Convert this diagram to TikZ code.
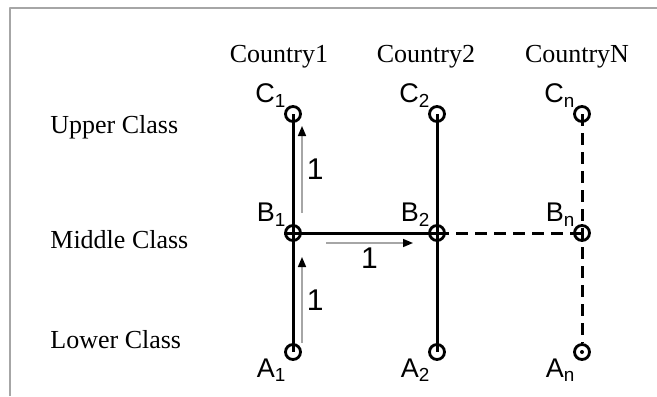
\documentclass[tikz,border=0pt]{standalone}
\usepackage{fontspec}
\setmainfont{Liberation Serif}
\newfontfamily\lblfont{Liberation Sans}
\usetikzlibrary{arrows.meta}

\begin{document}
\begin{tikzpicture}[x=0.5pt,y=-0.5pt,line join=round,
  spot/.style={circle,draw,line width=1.4pt,minimum size=7.5pt,inner sep=0pt},
  cls/.style={font=\fontsize{13}{15}\selectfont,anchor=base west,inner sep=0pt},
  ctry/.style={font=\fontsize{13}{15}\selectfont,anchor=base,inner sep=0pt},
  lbl/.style={font=\lblfont\fontsize{13.5}{15}\selectfont,inner sep=0pt},
  num/.style={font=\lblfont\fontsize{15}{17}\selectfont,inner sep=2pt},
  link/.style={line width=1.5pt},
  weak/.style={line width=1.5pt,dash pattern=on 6pt off 3.5pt},
  flow/.style={gray!70,line width=0.8pt,-{Triangle[length=5pt,width=4pt,color=black]}}]
\useasboundingbox (0,0) rectangle (657,396);
% frame
\draw[gray!70,line width=1pt] (10,396) -- (10,8) -- (657,8);
% headers and rows
\node[ctry] (h1) at (279,62) {Country1};
\node[ctry] (h2) at (426,62) {Country2};
\node[ctry] (hn) at (577,62) {CountryN};
\node[cls] (up) at (50,133) {Upper Class};
\node[cls] (mid) at (50,248) {Middle Class};
\node[cls] (low) at (50,348) {Lower Class};
% class positions
\node[spot,label={[lbl]above left:C\textsubscript{1}}] (C1) at (293,114) {};
\node[spot,label={[lbl]above left:B\textsubscript{1}}] (B1) at (293,233) {};
\node[spot,label={[lbl]below left:A\textsubscript{1}}] (A1) at (293,352) {};
\node[spot,label={[lbl]above left:C\textsubscript{2}}] (C2) at (437,114) {};
\node[spot,label={[lbl]above left:B\textsubscript{2}}] (B2) at (437,233) {};
\node[spot,label={[lbl]below left:A\textsubscript{2}}] (A2) at (437,352) {};
\node[spot,label={[lbl]above left:C\textsubscript{n}}] (Cn) at (582,114) {};
\node[spot,label={[lbl]above left:B\textsubscript{n}}] (Bn) at (582,233) {};
\node[spot,label={[lbl]below left:A\textsubscript{n}}] (An) at (582,352) {};
\fill (An.center) circle (1pt);
% ties
\draw[link] (C1.center) -- (A1.center);
\draw[link] (C2.center) -- (A2.center);
\draw[link] (B1.west) -- (B2.center);
\draw[weak] (B2.center) -- (Bn.center);
\draw[weak] (Cn.center) -- (An.north);
% mobility steps
\path
(302,343) coordinate (s1)
(302,257) coordinate (e1)
(302,213) coordinate (s2)
(302,126) coordinate (e2)
(326,243) coordinate (s3)
(413,243) coordinate (e3)
;
\draw[flow] (s1) -- (e1) node[num,midway,right,black] (n1) {1};
\draw[flow] (s2) -- (e2) node[num,midway,right,black] (n2) {1};
\draw[flow] (s3) -- (e3) node[num,midway,below,black] (n3) {1};
\end{tikzpicture}
\end{document}
